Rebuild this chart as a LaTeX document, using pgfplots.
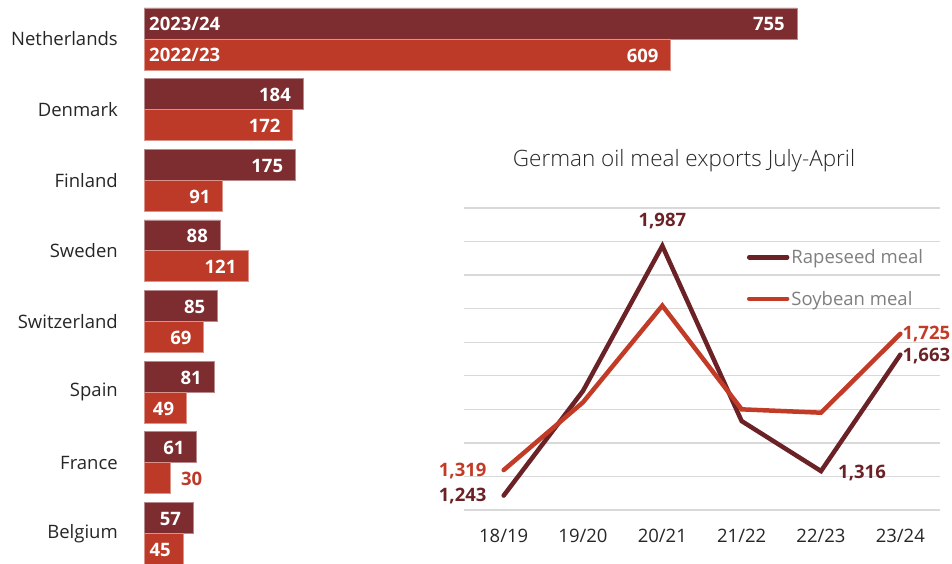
\documentclass[border=0pt]{standalone}
\usepackage{fontspec}
\setmainfont{Open Sans}
\IfFontExistsTF{Open Sans Light}{\newfontfamily\lightfont{Open Sans Light}}{\newfontfamily\lightfont{Open Sans}}
\usepackage{pgfplots}
\pgfplotsset{compat=1.18}
\definecolor{barDark}{HTML}{7D2D2F}
\definecolor{barLight}{HTML}{BE3A28}
\definecolor{lineRape}{HTML}{6B2226}
\definecolor{lineSoy}{HTML}{C23B26}
\definecolor{gridc}{HTML}{D9D9D9}
\definecolor{txt}{HTML}{262626}
\definecolor{legtxt}{HTML}{7F7F7F}
\newcommand\fs{\fontsize{18.5}{22}\selectfont}
\begin{document}
\begin{tikzpicture}
\useasboundingbox (0pt,0pt) rectangle (952pt,563pt);
% ---------------- bar chart ----------------
\begin{axis}[
  at={(144pt,0pt)}, anchor=south west, scale only axis, width=653pt, height=563pt,
  xbar, xmin=0, xmax=755, ymin=-0.552, ymax=7.422, y dir=reverse,
  bar width=0.439,
  axis line style={draw=none}, xtick=\empty, ytick={0,...,7},
  yticklabels={Netherlands,Denmark,Finland,Sweden,Switzerland,Spain,France,Belgium},
  major tick length=0pt,
  yticklabel style={font=\fs, text=txt, inner sep=0pt, xshift=-26pt},
  clip=false,
  nodes near coords,
  nodes near coords style={font=\fs\bfseries, text=white, anchor=east, inner sep=0pt, xshift=-12pt, yshift=-1pt},
  /pgf/number format/assume math mode=true,
]
\addplot[fill=barDark, draw=barDark!55!white, line width=0.6pt, bar shift=-0.2195]
  coordinates {(755,0) (184,1) (175,2) (88,3) (85,4) (81,5) (61,6) (57,7)};
\addplot[fill=barLight, draw=barLight!55!white, line width=0.6pt, bar shift=0.2195, point meta=explicit symbolic]
  coordinates {(609,0)[609] (172,1)[172] (91,2)[91] (121,3)[121] (69,4)[69] (49,5)[49] (30,6)[\relax] (45,7)[45]};
\node[anchor=west, inner sep=0pt, font=\fs\bfseries, text=white, xshift=5pt] at (axis cs:0,-0.2195) {2023/24};
\node[anchor=west, inner sep=0pt, font=\fs\bfseries, text=white, xshift=5pt] at (axis cs:0,0.2195) {2022/23};
\node[anchor=west, inner sep=0pt, font=\fs\bfseries, text=barLight, xshift=11pt, yshift=-1pt] at (axis cs:30,6.2195) {30};
\end{axis}
% ---------------- title ----------------
\node[anchor=base, inner sep=0pt, font=\lightfont\fontsize{22.5}{26}\selectfont, text=txt] at (684pt,396pt) {German oil meal exports July-April};
% ---------------- line chart ----------------
\begin{axis}[
  at={(464pt,53pt)}, anchor=south west, scale only axis, width=476pt, height=302pt,
  xmin=-0.5, xmax=5.5, ymin=1200, ymax=2100,
  axis line style={draw=none}, major tick length=0pt,
  ytick={1200,1300,...,2100}, yticklabels={}, ymajorgrids,
  grid style={gridc, line width=1.3pt},
  xtick={0,...,5}, xticklabels={18/19,19/20,20/21,21/22,22/23,23/24},
  xticklabel style={font=\fs, text=txt, inner sep=0pt, yshift=-19pt},
  clip=false,
  legend style={at={(0.594,0.870)}, anchor=north west, draw=none, fill=none, inner sep=0pt,
    font=\fs, text=legtxt, row sep=22pt},
  legend cell align=left,
  legend image code/.code={\draw[#1, line width=4.5pt, line cap=round] (0pt,0pt) -- (38pt,0pt);},
]
\addplot[lineRape, line width=4.5pt, line cap=round, mark=none]
  coordinates {(0,1243) (1,1555) (2,1987) (3,1465) (4,1316) (5,1663)};
\addlegendentry{Rapeseed meal}
\addplot[lineSoy, line width=4.5pt, line cap=round, mark=none]
  coordinates {(0,1319) (1,1521) (2,1809) (3,1500) (4,1490) (5,1725)};
\addlegendentry{Soybean meal}
\node[anchor=base, inner sep=0pt, font=\fs\bfseries, text=lineRape, yshift=19pt] at (axis cs:2,1987) {1,987};
\node[anchor=base east, inner sep=0pt, font=\fs\bfseries, text=lineSoy, xshift=-17pt, yshift=-6pt] at (axis cs:0,1319) {1,319};
\node[anchor=base east, inner sep=0pt, font=\fs\bfseries, text=lineRape, xshift=-17pt, yshift=-6pt] at (axis cs:0,1243) {1,243};
\node[anchor=base west, inner sep=0pt, font=\fs\bfseries, text=lineRape, xshift=17pt, yshift=-7pt] at (axis cs:4,1316) {1,316};
\node[anchor=base west, inner sep=0pt, font=\fs\bfseries, text=lineSoy, xshift=2pt, yshift=-6pt] at (axis cs:5,1725) {1,725};
\node[anchor=base west, inner sep=0pt, font=\fs\bfseries, text=lineRape, xshift=2pt, yshift=-7pt] at (axis cs:5,1663) {1,663};
\end{axis}
\end{tikzpicture}
\end{document}
